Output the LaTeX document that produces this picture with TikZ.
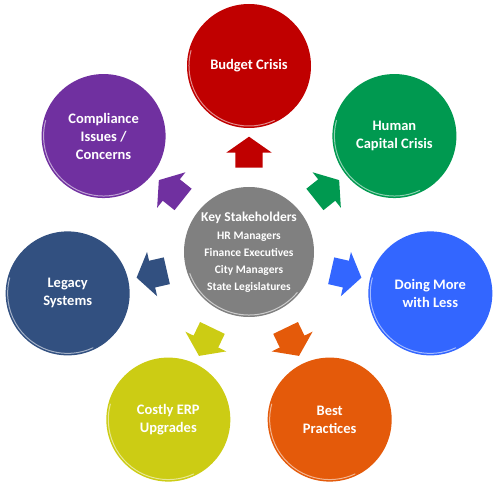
\documentclass[tikz,border=0pt]{standalone}
\usepackage{fontspec}
\setmainfont{Carlito}
\usetikzlibrary{shapes.arrows}
\definecolor{budgetred}{RGB}{192,0,0}
\definecolor{capitalgreen}{RGB}{0,153,80}
\definecolor{lessblue}{RGB}{51,102,255}
\definecolor{practiceorange}{RGB}{228,90,10}
\definecolor{erpyellow}{RGB}{204,204,20}
\definecolor{legacynavy}{RGB}{50,80,128}
\definecolor{compliancepurple}{RGB}{112,48,160}
\definecolor{hubgray}{RGB}{128,128,128}
\newcommand{\issuecircle}[4]{%
  \node[issue,fill=#3] (#1) at (#2:186) {#4};%
  \draw[rim,#3!45!white] (#1.center) ++(165:60) arc[start angle=165,end angle=295,radius=60];%
  \node[outarrow,fill=#3,rotate=#2] (#1arrow) at (#2:95) {};%
}
\begin{document}
\begin{tikzpicture}[x=1pt,y=1pt,
    issue/.style={circle,minimum size=124,inner sep=0,text=white,align=center,
      font=\fontsize{14.5}{18}\selectfont\bfseries},
    hub/.style={circle,minimum size=130,inner sep=0,fill=hubgray,text=white,align=center,
      font=\fontsize{11.5}{17}\selectfont\bfseries},
    rim/.style={line width=1pt,line cap=round},
    outarrow/.style={single arrow,minimum height=31,inner xsep=0,inner ysep=13.5,
      single arrow head extend=9,single arrow tip angle=110}]
  \useasboundingbox (-249,-237) rectangle (248,252);
  \node[hub] (hub) at (0,0) {{\fontsize{13.5}{15}\selectfont Key Stakeholders}\\[1pt]
    HR Managers\\Finance Executives\\City Managers\\State Legislatures};
  \draw[rim,hubgray!40!white] (hub.center) ++(200:63) arc[start angle=200,end angle=320,radius=63];
  \issuecircle{budget}{90}{budgetred}{Budget Crisis}
  \issuecircle{capital}{38.57}{capitalgreen}{Human\\Capital Crisis}
  \issuecircle{less}{-12.86}{lessblue}{Doing More\\with Less}
  \issuecircle{practices}{-64.29}{practiceorange}{Best\\Practices}
  \issuecircle{erp}{-115.71}{erpyellow}{Costly ERP\\Upgrades}
  \issuecircle{legacy}{-167.14}{legacynavy}{Legacy\\Systems}
  \issuecircle{compliance}{141.43}{compliancepurple}{Compliance\\Issues /\\Concerns}
\end{tikzpicture}
\end{document}
